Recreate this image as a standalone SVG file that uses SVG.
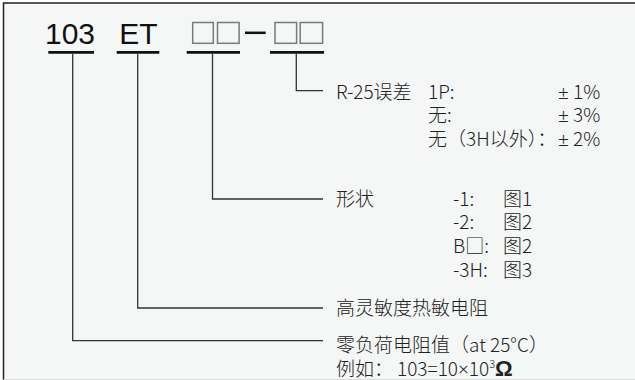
<svg xmlns="http://www.w3.org/2000/svg" width="635" height="380" viewBox="0 0 635 380">
<style>
.hd{font-family:"Liberation Sans",Arial,sans-serif;font-size:30px;fill:#111}
.t{font-family:"Noto Sans CJK SC","Noto Sans",sans-serif;font-size:19px;font-weight:300;fill:#222}
.l{font-family:"Noto Sans",sans-serif}
.ul{stroke:#111;stroke-width:2.7;fill:none}
.bx{stroke:#7a7a7a;stroke-width:1.5;fill:none}
.cn{stroke:#333;stroke-width:1.3;fill:none}
</style>
<rect x="0" y="0" width="635" height="380" fill="#ffffff"/>
<rect x="3.5" y="3" width="640" height="376" fill="#f5f7f6"/>
<path d="M3.5 380 V3 H635" stroke="#222" stroke-width="1.5" fill="none"/>
<line x1="3.5" y1="379.5" x2="635" y2="379.5" stroke="#d8dad9" stroke-width="1"/>

<g id="code-103">
<text class="hd" x="45" y="44.3">103</text>
<line class="ul" x1="48.3" y1="52.3" x2="94" y2="52.3"/>
</g>
<g id="code-ET">
<text class="hd" x="119.3" y="44.3">ET</text>
<line class="ul" x1="116.7" y1="52.3" x2="159.3" y2="52.3"/>
</g>
<g id="code-shape">
<rect class="bx" x="192.7" y="22.5" width="20.6" height="20.8"/>
<rect class="bx" x="217.5" y="22.5" width="21.6" height="20.8"/>
<line x1="245" y1="32.8" x2="265.7" y2="32.8" stroke="#111" stroke-width="2.5"/>
<line class="ul" x1="186.7" y1="52.3" x2="240" y2="52.3"/>
</g>
<g id="code-tol">
<rect class="bx" x="275" y="22.5" width="21.6" height="20.8"/>
<rect class="bx" x="300.2" y="22.5" width="22.4" height="20.8"/>
<line class="ul" x1="270" y1="52.3" x2="324" y2="52.3"/>
</g>

<g id="connectors">
<path class="cn" d="M72.7 53.5 V340.7 H323"/>
<path class="cn" d="M137.7 53.5 V308 H323"/>
<path class="cn" d="M212.5 53.5 V199 H323"/>
<path class="cn" d="M296.3 53.5 V90.7 H323"/>
</g>

<g id="label-tol">
<text class="t" x="336" y="99">R-25误差</text>
<text class="t" x="428" y="99">1P:</text>
<text class="t" x="428" y="122">无:</text>
<text class="t" x="428" y="146">无（3H以外）：</text>
<text class="t" x="558" y="99"><tspan class="l">±</tspan> 1%</text>
<text class="t" x="558" y="122"><tspan class="l">±</tspan> 3%</text>
<text class="t" x="558" y="146"><tspan class="l">±</tspan> 2%</text>
</g>
<g id="label-shape">
<text class="t" x="336" y="205.5">形状</text>
<text class="t" x="453" y="205.5">-1:</text>
<text class="t" x="453" y="229.3">-2:</text>
<text class="t" x="453" y="253">B□:</text>
<text class="t" x="453" y="276.8">-3H:</text>
<text class="t" x="503" y="205.5">图1</text>
<text class="t" x="503" y="229.3">图2</text>
<text class="t" x="503" y="253">图2</text>
<text class="t" x="503" y="276.8">图3</text>
</g>
<g id="label-et">
<text class="t" x="336" y="315">高灵敏度热敏电阻</text>
</g>
<g id="label-103">
<text class="t" x="336" y="352.3">零负荷电阻值（at 25°C）</text>
<text class="t" x="336" y="376">例如：<tspan x="397">103=10</tspan><tspan class="l">×</tspan>10<tspan font-size="11" dy="-8">3</tspan><tspan font-family="Liberation Sans,sans-serif" font-weight="bold" font-size="22" dy="8">Ω</tspan></text>
</g>
</svg>
